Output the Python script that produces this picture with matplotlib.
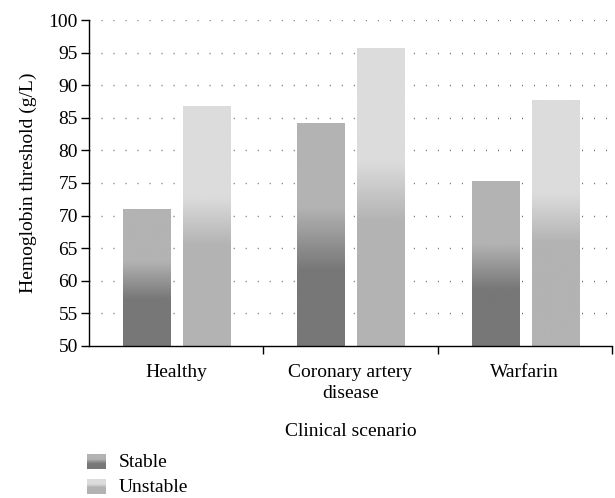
import numpy as np
import matplotlib
matplotlib.use("Agg")
import matplotlib.pyplot as plt
from matplotlib.colors import LinearSegmentedColormap

categories = ["Healthy", "Coronary artery\ndisease", "Warfarin"]
series_names = ["Stable", "Unstable"]
stable = [71.0, 84.1, 75.3]
unstable = [86.8, 95.7, 87.7]
yticks = [50, 55, 60, 65, 70, 75, 80, 85, 90, 95, 100]

plt.rcParams['font.family'] = ['Liberation Serif', 'DejaVu Serif']
FS = 14

cmap_stable = LinearSegmentedColormap.from_list(
    "st", [(0, "#777777"), (0.34, "#777777"), (0.62, "#b3b3b3"), (1, "#b3b3b3")])
cmap_unstable = LinearSegmentedColormap.from_list(
    "un", [(0, "#b3b3b3"), (0.42, "#b3b3b3"), (0.62, "#dcdcdc"), (1, "#dcdcdc")])

fig = plt.figure(figsize=(6.15, 4.98), dpi=100)
ax = fig.add_axes([89/615, 152/498, (612-89)/615, (346-20)/498])

ymin, ymax = 50, 100

for y in yticks[1:]:
    ax.axhline(y, color="#666666", lw=1.0, ls=(0, (0.7, 7.95)), zorder=0)

grad = np.linspace(0, 1, 256).reshape(-1, 1)
bw = 0.27
offs = [-0.17, 0.175]
for vals, cm, off in [(stable, cmap_stable, offs[0]), (unstable, cmap_unstable, offs[1])]:
    for i, v in enumerate(vals):
        c = i + 0.5 + off
        ax.imshow(grad, cmap=cm, origin="lower", aspect="auto",
                  extent=[c - bw/2, c + bw/2, ymin, v], zorder=2, interpolation="bilinear")
ax.set_xlim(0, 3)
ax.set_ylim(ymin, ymax)

ax.spines['top'].set_visible(False)
ax.spines['right'].set_visible(False)
ax.spines['left'].set_linewidth(1.0)
ax.spines['bottom'].set_linewidth(1.0)
ax.set_yticks(yticks)
ax.set_yticklabels([str(t) for t in yticks], fontsize=FS)
ax.tick_params(axis='y', length=6, width=1, pad=2)

ax.set_xticks([1, 2, 3])
ax.set_xticklabels([])
ax.tick_params(axis='x', which='major', length=6, width=1)
ax.set_xticks([0.5, 1.5, 2.5], minor=True)
ax.set_xticklabels(categories, minor=True, fontsize=FS, linespacing=1.3)
ax.tick_params(axis='x', which='minor', length=0, pad=13)

ax.set_ylabel("Hemoglobin threshold (g/L)", fontsize=FS)
ax.yaxis.set_label_coords(-0.10, 0.5)
ax.set_xlabel("Clinical scenario", fontsize=FS, labelpad=15)

# legend
for k, (name, cm) in enumerate([("Stable", cmap_stable), ("Unstable", cmap_unstable)]):
    top = 454 + k * 25
    lax = fig.add_axes([87/615, 1 - (top + 15)/498, 19/615, 15/498])
    lax.imshow(grad, cmap=cm, origin="lower", aspect="auto", extent=[0, 1, 0, 1])
    lax.axis("off")
    fig.text(119/615, 1 - (top + 8)/498, name, fontsize=FS, va="center", ha="left")

fig.savefig("out.png", dpi=100)
